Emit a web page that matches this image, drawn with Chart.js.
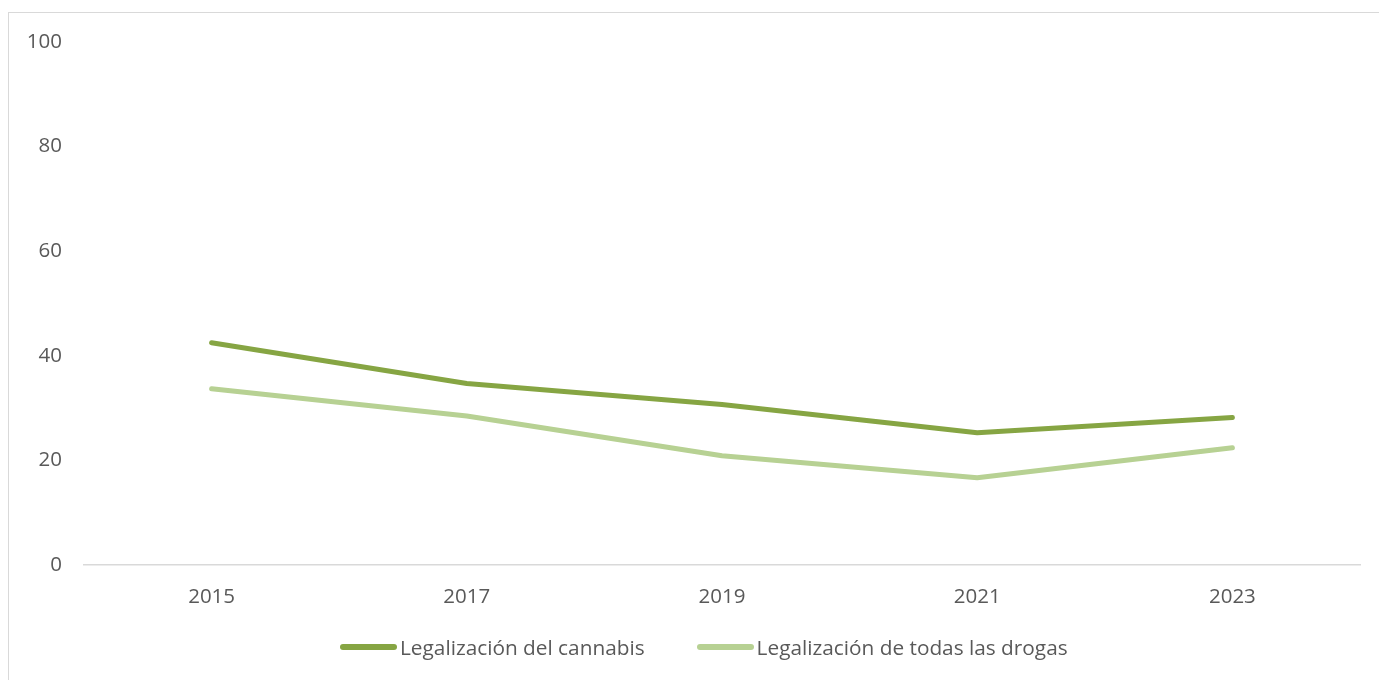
<!DOCTYPE html>
<html>
<head>
<meta charset="utf-8">
<script src="https://cdn.jsdelivr.net/npm/chart.js@4/dist/chart.umd.min.js"></script>
<style>
  html, body { margin: 0; padding: 0; background: #fff; }
  #frame {
    position: absolute; left: 8px; top: 12px; width: 1380px; height: 680px;
    border: 1.5px solid #d9d9d9; box-sizing: border-box;
  }
  #wrap { position: absolute; left: 9px; top: 13px; width: 1369px; height: 667px; }
  #leyenda {
    position: absolute; left: 340px; top: 632px; height: 30px;
    display: flex; align-items: center;
    font-family: 'Open Sans', sans-serif; font-size: 20.8px; color: #595959;
  }
  .item { display: flex; align-items: center; margin-right: 52px; }
  .item:last-child { margin-right: 0; }
  .swatch { width: 57px; height: 6px; border-radius: 3px; margin-right: 3px; }
</style>
</head>
<body>
<div id="frame"></div>
<div id="wrap"><canvas id="grafico"></canvas></div>
<div id="leyenda"></div>
<script>
// Datos del gráfico
var years = ['2015', '2017', '2019', '2021', '2023'];
var cannabis = [42.5, 34.7, 30.7, 25.3, 28.2];
var todasDrogas = [33.7, 28.5, 20.9, 16.7, 22.4];
var yTicks = [0, 20, 40, 60, 80, 100];

var darkGreen = '#86a543';
var lightGreen = '#b7d193';
var textGray = '#595959';

document.addEventListener('DOMContentLoaded', function () {
    var ctx = document.getElementById('grafico').getContext('2d');
    var chart = new Chart(ctx, {
        type: 'line',
        data: {
            labels: years,
            datasets: [
                {
                    label: 'Legalización del cannabis',
                    data: cannabis,
                    borderColor: darkGreen,
                    backgroundColor: darkGreen,
                    borderWidth: 5,
                    borderCapStyle: 'round',
                    borderJoinStyle: 'round',
                    pointRadius: 0,
                    tension: 0
                },
                {
                    label: 'Legalización de todas las drogas',
                    data: todasDrogas,
                    borderColor: lightGreen,
                    backgroundColor: lightGreen,
                    borderWidth: 5,
                    borderCapStyle: 'round',
                    borderJoinStyle: 'round',
                    pointRadius: 0,
                    tension: 0
                }
            ]
        },
        options: {
            responsive: true,
            maintainAspectRatio: false,
            animation: false,
            layout: { padding: { top: 29, right: 18, bottom: 67, left: 0 } },
            plugins: {
                tooltip: { enabled: false },
                legend: { display: false }
            },
            scales: {
                x: {
                    offset: true,
                    afterFit: function (scale) {
                        scale.height = 48;
                        scale.paddingLeft = 0;
                        scale.paddingRight = 0;
                    },
                    grid: { display: false, drawTicks: false },
                    border: { display: true, color: '#d9d9d9', width: 1.5 },
                    ticks: {
                        color: textGray,
                        font: { family: 'Open Sans', size: 20.5 },
                        padding: 20
                    }
                },
                y: {
                    min: 0,
                    max: 100,
                    afterBuildTicks: function (scale) {
                        scale.ticks = yTicks.map(function (v) { return { value: v }; });
                    },
                    afterFit: function (scale) {
                        scale.width = 75;
                        scale.paddingTop = 0;
                        scale.paddingBottom = 0;
                    },
                    grid: { display: false, drawTicks: false },
                    border: { display: false },
                    ticks: {
                        color: textGray,
                        font: { family: 'Open Sans', size: 20.5 },
                        padding: 22
                    }
                }
            }
        }
    });

    // Leyenda en HTML
    var leyenda = document.getElementById('leyenda');
    chart.data.datasets.forEach(function (ds) {
        var item = document.createElement('div');
        item.className = 'item';
        var sw = document.createElement('span');
        sw.className = 'swatch';
        sw.style.background = ds.borderColor;
        var txt = document.createElement('span');
        txt.textContent = ds.label;
        item.appendChild(sw);
        item.appendChild(txt);
        leyenda.appendChild(item);
    });
});
</script>
</body>
</html>
